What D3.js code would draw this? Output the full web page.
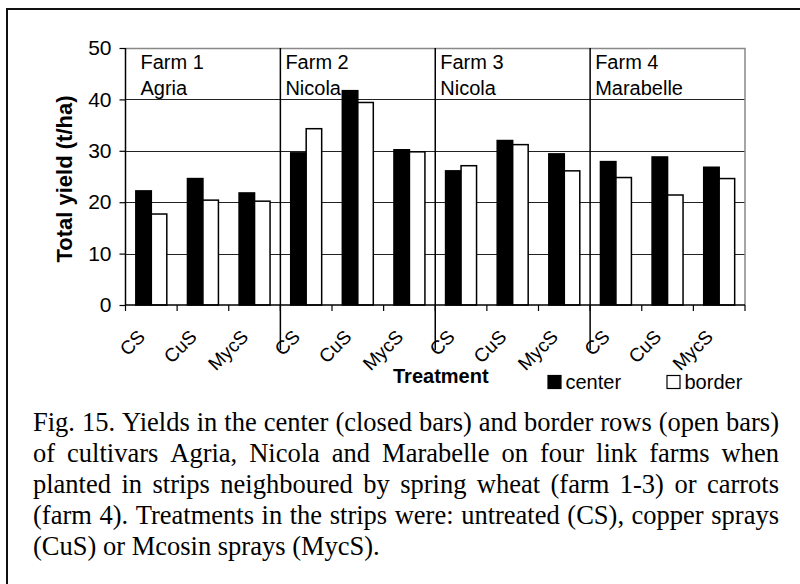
<!DOCTYPE html>
<html>
<head>
<meta charset="utf-8">
<script src="https://cdn.jsdelivr.net/npm/d3@7"></script>
<style>
  body { margin: 0; background: #fff; }
  svg { display: block; }
  .chart text { font-family: "Liberation Sans", Arial, sans-serif; fill: #000; }
  .caption text { font-family: "Liberation Serif", "Times New Roman", serif; font-size: 26.5px; fill: #000; }
</style>
</head>
<body>
<div id="chart"></div>
<script>
// Data
const farms = ["Farm 1", "Farm 2", "Farm 3", "Farm 4"];
const cultivars = ["Agria", "Nicola", "Nicola", "Marabelle"];
const treatments = ["CS", "CuS", "MycS"];
const series = ["center", "border"];
const centerValues = [22.2, 24.6, 21.8, 29.6, 41.7, 30.2, 26.1, 32.0, 29.4, 27.9, 28.8, 26.8];
const borderValues = [17.7, 20.4, 20.2, 34.3, 39.4, 29.8, 27.1, 31.2, 26.1, 24.8, 21.4, 24.6];
const yTicks = [0, 10, 20, 30, 40, 50];
const captionLines = [
    "Fig. 15. Yields in the center (closed bars) and border rows (open bars)",
    "of cultivars Agria, Nicola and Marabelle on four link farms when",
    "planted in strips neighboured by spring wheat (farm 1-3) or carrots",
    "(farm 4). Treatments in the strips were: untreated (CS), copper sprays",
    "(CuS) or Mcosin sprays (MycS)."
];

// one row per bar group (farm x treatment)
const rows = [];
farms.forEach((f, fi) => {
    treatments.forEach((t, ti) => {
        const i = fi * treatments.length + ti;
        rows.push({ key: f + "|" + t, farm: fi, treatment: t, center: centerValues[i], border: borderValues[i] });
    });
});

const W = 800, H = 584;
const margin = { top: 48, right: 55, bottom: 279, left: 125.5 };
const width = W - margin.left - margin.right;
const height = H - margin.top - margin.bottom;

const svg = d3.select("#chart")
    .append("svg")
    .attr("width", W)
    .attr("height", H);

// outer frame (open to the right and bottom)
svg.append("path")
    .attr("d", `M7,${H + 5}V9H${W + 5}`)
    .style("fill", "none")
    .style("stroke", "#111")
    .style("stroke-width", 2);

const g = svg.append("g")
    .attr("class", "chart")
    .attr("transform", `translate(${margin.left},${margin.top})`);

// Scales
const x = d3.scaleBand()
    .domain(rows.map(d => d.key))
    .range([0, width])
    .paddingInner(0.4)
    .paddingOuter(0.2);

const xs = d3.scaleBand()
    .domain(series)
    .range([0, x.bandwidth()]);

const y = d3.scaleLinear()
    .domain([0, 50])
    .range([height, 0]);

const step = x.step();

// gridlines
g.append("g")
    .selectAll("line")
    .data(yTicks.filter(d => d > 0 && d < 50))
    .join("line")
    .attr("x1", 0)
    .attr("x2", width)
    .attr("y1", d => Math.round(y(d)) + 0.5)
    .attr("y2", d => Math.round(y(d)) + 0.5)
    .style("stroke", "#222")
    .style("stroke-width", 1);

// plot frame top/right
g.append("path")
    .attr("d", `M0,0.5H${width}V${height}`)
    .style("fill", "none")
    .style("stroke", "#888")
    .style("stroke-width", 1.5);

// bars
const groups = g.append("g")
    .selectAll("g")
    .data(rows)
    .join("g")
    .attr("transform", d => `translate(${x(d.key)},0)`);

groups.selectAll("rect")
    .data(d => series.map(s => ({ s, v: d[s] })))
    .join("rect")
    .attr("x", d => xs(d.s))
    .attr("width", xs.bandwidth())
    .attr("y", d => y(d.v))
    .attr("height", d => y(0) - y(d.v))
    .style("fill", d => d.s === "center" ? "#000" : "#fff")
    .style("stroke", "#000")
    .style("stroke-width", 1.5);

// farm dividers
g.append("g")
    .selectAll("line")
    .data(d3.range(1, farms.length))
    .join("line")
    .attr("x1", d => d * treatments.length * step)
    .attr("x2", d => d * treatments.length * step)
    .attr("y1", 0)
    .attr("y2", height + 45)
    .style("stroke", "#000")
    .style("stroke-width", 1.5);

// farm labels
const farmLabels = g.append("g")
    .selectAll("text")
    .data(farms)
    .join("text")
    .attr("x", (d, i) => i * treatments.length * step + (i === 0 ? 15 : 5))
    .attr("y", 21)
    .style("font-size", "20px");
farmLabels.append("tspan").text(d => d);
farmLabels.append("tspan")
    .attr("x", (d, i) => i * treatments.length * step + (i === 0 ? 15 : 5))
    .attr("dy", 26)
    .text((d, i) => cultivars[i]);

// y axis
const yAxis = g.append("g")
    .call(d3.axisLeft(y).tickValues(yTicks).tickSize(6).tickPadding(8));
yAxis.select(".domain").style("stroke", "#000").style("stroke-width", 1.5)
    .attr("d", `M0,${height}V0`);
yAxis.selectAll(".tick line").style("stroke-width", 1.2);
yAxis.selectAll("text")
    .style("font-size", "21px")
    .style("font-family", "Liberation Sans, Arial, sans-serif");

// x axis: ticks at group boundaries
const xAxis = g.append("g")
    .attr("transform", `translate(0,${height})`);
xAxis.append("line")
    .attr("x1", 0)
    .attr("x2", width)
    .style("stroke", "#000")
    .style("stroke-width", 1.5);
xAxis.selectAll(".bt")
    .data(d3.range(0, rows.length + 1))
    .join("line")
    .attr("class", "bt")
    .attr("x1", d => d * step)
    .attr("x2", d => d * step)
    .attr("y1", 0)
    .attr("y2", 6)
    .style("stroke", "#000")
    .style("stroke-width", 1.2);

xAxis.selectAll(".lbl")
    .data(rows)
    .join("text")
    .attr("class", "lbl")
    .attr("text-anchor", "end")
    .attr("transform", d => `translate(${x(d.key) + x.bandwidth() / 2 - 5},${33}) rotate(-45)`)
    .style("font-size", "19px")
    .text(d => d.treatment);

// axis titles
g.append("text")
    .attr("text-anchor", "middle")
    .attr("transform", `translate(${-54},${height / 2 + 2.5}) rotate(-90)`)
    .style("font-size", "22px")
    .style("font-weight", "bold")
    .text("Total yield (t/ha)");

g.append("text")
    .attr("x", 267.5)
    .attr("y", height + 78)
    .style("font-size", "20px")
    .style("font-weight", "bold")
    .text("Treatment");

// legend
const legend = g.append("g")
    .attr("transform", `translate(${422},${height + 70})`);
series.forEach((s, i) => {
    const lg = legend.append("g").attr("transform", `translate(${i * 119},0)`);
    lg.append("rect")
        .attr("x", 0.5)
        .attr("y", 0.5)
        .attr("width", 13)
        .attr("height", 13)
        .style("fill", s === "center" ? "#000" : "#fff")
        .style("stroke", "#000")
        .style("stroke-width", 1.2);
    lg.append("text")
        .attr("x", 18)
        .attr("y", 14)
        .style("font-size", "20px")
        .text(s);
});

// caption, justified
const cap = svg.append("g").attr("class", "caption");
const capLeft = 33, capRight = 779;
captionLines.forEach((line, li) => {
    const t = cap.append("text").attr("y", 431 + li * 31);
    const words = line.split(" ");
    const spans = words.map(w => t.append("tspan").text(w));
    const widths = spans.map(s => s.node().getComputedTextLength());
    const total = d3.sum(widths);
    const last = li === captionLines.length - 1;
    const spaceW = 26.5 * 0.25;
    const gap = last ? spaceW : (capRight - capLeft - total) / (words.length - 1);
    let cx = capLeft;
    spans.forEach((s, i) => {
        s.attr("x", cx);
        cx += widths[i] + gap;
    });
});
</script>
</body>
</html>
